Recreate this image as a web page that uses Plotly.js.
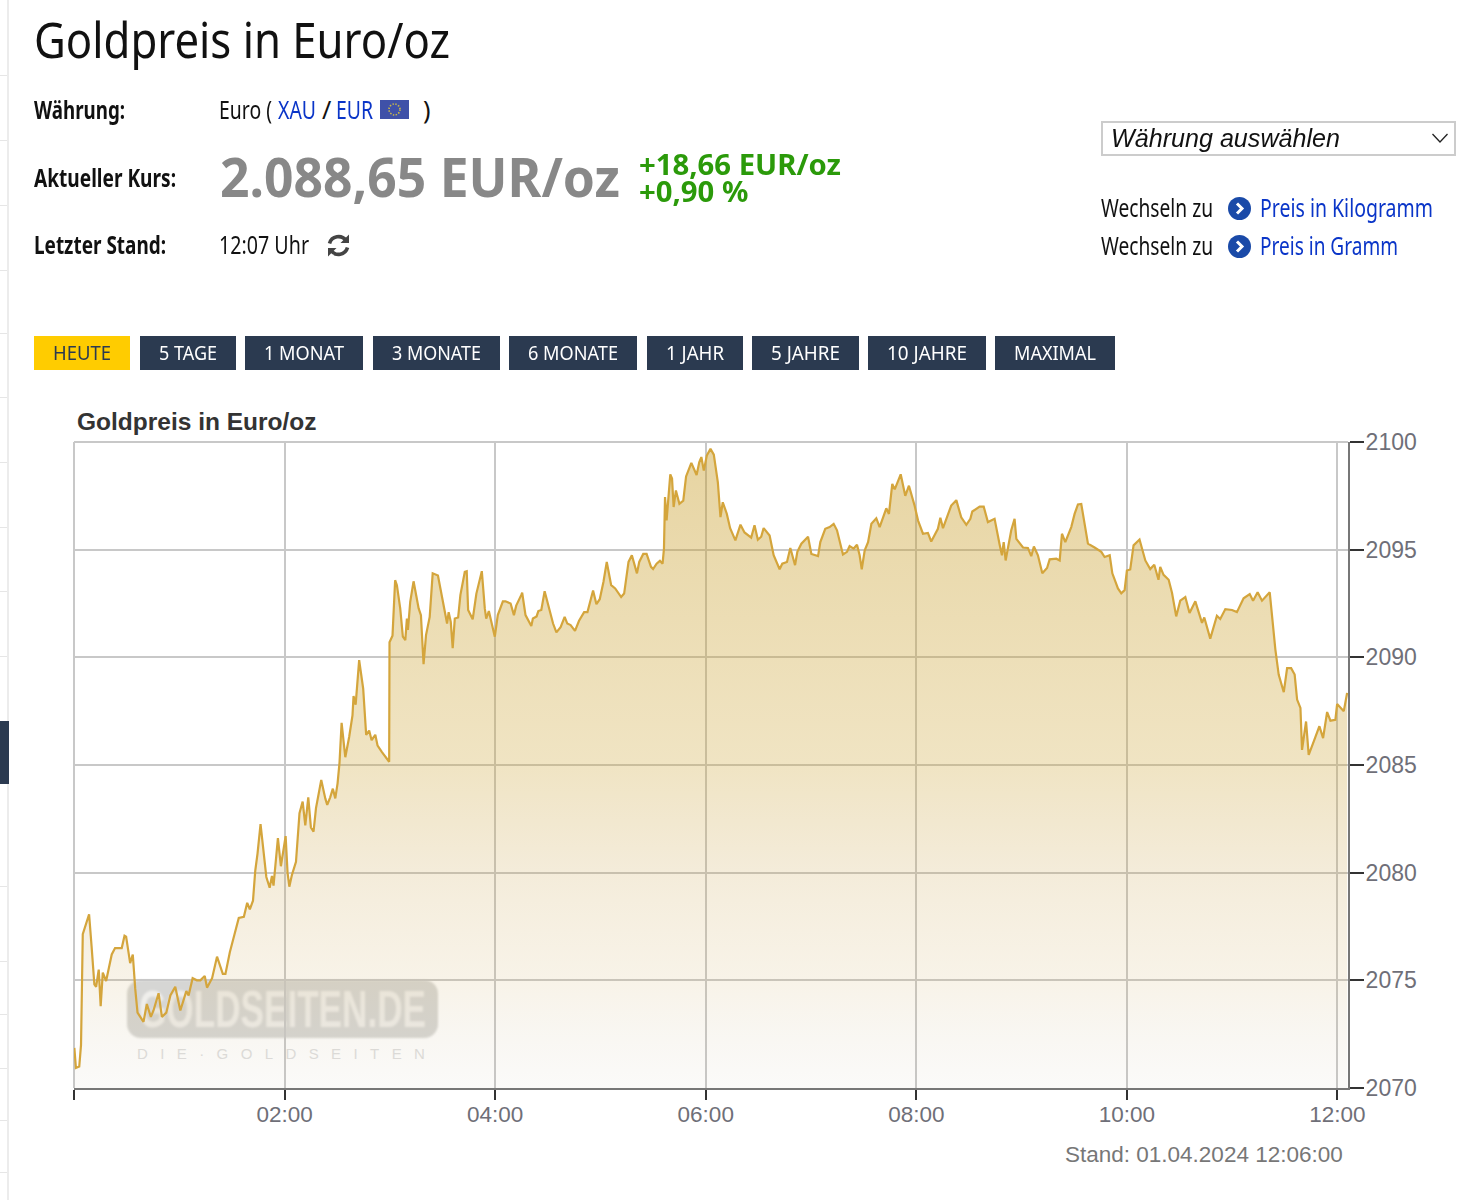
<!DOCTYPE html>
<html>
<head>
<meta charset="utf-8">
<title>Goldpreis in Euro/oz</title>
<script src="https://cdn.plot.ly/plotly-3.0.1.min.js"></script>
<style>
html, body { margin: 0; padding: 0; background: #fff; }
body { width: 1481px; height: 1200px; position: relative; overflow: hidden; font-family: "Noto Sans", sans-serif; color: #111; }
.t { position: absolute; white-space: nowrap; line-height: 1; transform-origin: left center; }
.lbl { font-weight: 700; font-size: 25px; }
.txt { font-size: 25px; }
.blue { color: #0a35c8; }
.green { color: #2b9a0a; font-weight: 700; font-size: 29px; line-height: 27px; }
.btn { position: absolute; top: 336px; height: 34px; background: #2b3a50; color: #fff; font-size: 20px; }
.btn.on { background: #ffcc00; color: #2b3a50; }
.btn span { position: absolute; top: 6px; white-space: nowrap; line-height: 22px; transform-origin: left center; }
#side { position: absolute; left: 7px; top: 0; width: 2px; height: 1200px; background: #ececec; }
#sidebar { position: absolute; left: 0; top: 721px; width: 9px; height: 63px; background: #2b3a50; }
.sidetick { position: absolute; left: 0; width: 7px; height: 1px; background: #e6e6e6; }
#box { position: absolute; left: 1101px; top: 121px; width: 351px; height: 31px; border: 2px solid #ccc; }
#mark { position: absolute; left: 127px; top: 980px; width: 311px; height: 58px; border-radius: 14px; background: #d6d6d4; filter: blur(1px); }
#mark b { position: absolute; left: 12px; top: 2px; font: 700 52px "Liberation Sans Narrow", "Liberation Sans", sans-serif; color: #efeeeb; white-space: nowrap; line-height: 54px; transform-origin: left center; }
#sub { position: absolute; left: 137px; top: 1045px; font: 15px "Liberation Sans", sans-serif; color: #dedede; letter-spacing: 12.4px; white-space: nowrap; }
#chart { position: absolute; left: 0; top: 0; width: 1481px; height: 1200px; }
svg.ic { position: absolute; }
</style>
</head>
<body>
<div id="side"></div>
<div id="sidebar"></div>
<div id="mark"><b data-w="287">GOLDSEITEN.DE</b></div>
<div id="sub">DIE·GOLDSEITEN</div>
<div id="chart"></div>

<div class="t" data-w="416" style="left:34px;top:14px;font-size:50px;">Goldpreis in Euro/oz</div>

<div class="t lbl" data-w="91" style="left:34px;top:97px;">Währung:</div>
<div class="t txt" data-w="53" style="left:219px;top:97px;">Euro (</div>
<div class="t txt blue" data-w="38" style="left:278px;top:97px;">XAU</div>
<div class="t txt" style="left:322px;top:97px;">/</div>
<div class="t txt blue" data-w="37" style="left:336px;top:97px;">EUR</div>
<svg class="ic" style="left:380px;top:100px" width="29" height="19" viewBox="0 0 29 19">
  <rect width="29" height="19" fill="#3f51a8"/>
  <circle cx="14.5" cy="9.5" r="5.5" fill="none" stroke="#c9b84a" stroke-width="1.6" stroke-dasharray="1.4 1.5"/>
</svg>
<div class="t txt" style="left:423px;top:97px;">)</div>

<div class="t lbl" data-w="142" style="left:34px;top:165px;">Aktueller Kurs:</div>
<div class="t" data-w="400" style="left:220px;top:149px;font-size:54px;font-weight:700;color:#888;">2.088,65 EUR/oz</div>
<div class="t green" data-w="202" style="left:639px;top:150px;">+18,66 EUR/oz<br>+0,90 %</div>

<div class="t lbl" data-w="132" style="left:34px;top:232px;">Letzter Stand:</div>
<div class="t txt" data-w="90" style="left:219px;top:232px;">12:07 Uhr</div>
<svg class="ic" style="left:326px;top:233px" width="25" height="25" viewBox="0 0 25 25" fill="none" stroke="#444" stroke-width="3.6">
  <path d="M3.5 10.5 A9.3 9.3 0 0 1 20 7.5"/>
  <path d="M21.5 14.5 A9.3 9.3 0 0 1 5 17.5"/>
  <path d="M23 1.5 V10 H14.5 Z" fill="#444" stroke="none"/>
  <path d="M2 23.5 V15 H10.5 Z" fill="#444" stroke="none"/>
</svg>

<div id="box"></div>
<div class="t" data-w="229" style="left:1111px;top:124px;font:italic 25px 'Liberation Sans',sans-serif;">Währung auswählen</div>
<svg class="ic" style="left:1431px;top:132px" width="18" height="12" viewBox="0 0 18 12" fill="none" stroke="#222" stroke-width="1.3"><path d="M1.5 2 L9 10 L16.5 2"/></svg>

<div class="t txt" data-w="112" style="left:1101px;top:195px;">Wechseln zu</div>
<svg class="ic" style="left:1228px;top:197px" width="23" height="23" viewBox="0 0 23 23"><circle cx="11.5" cy="11.5" r="11.5" fill="#1a4aa8"/><path d="M9 6.5 L14 11.5 L9 16.5" fill="none" stroke="#fff" stroke-width="3"/></svg>
<div class="t txt blue" data-w="173" style="left:1260px;top:195px;">Preis in Kilogramm</div>
<div class="t txt" data-w="112" style="left:1101px;top:233px;">Wechseln zu</div>
<svg class="ic" style="left:1228px;top:235px" width="23" height="23" viewBox="0 0 23 23"><circle cx="11.5" cy="11.5" r="11.5" fill="#1a4aa8"/><path d="M9 6.5 L14 11.5 L9 16.5" fill="none" stroke="#fff" stroke-width="3"/></svg>
<div class="t txt blue" data-w="138" style="left:1260px;top:233px;">Preis in Gramm</div>

<script>
var buttonLabels = ['HEUTE', '5 TAGE', '1 MONAT', '3 MONATE', '6 MONATE', '1 JAHR', '5 JAHRE', '10 JAHRE', 'MAXIMAL'];
var buttonLeft = [34, 140, 245, 373, 509, 647, 752, 868, 995];
var buttonRight = [130, 236, 363, 500, 637, 743, 859, 986, 1115];
var sideTicks = [75, 140, 205, 270, 333, 397, 462, 527, 591, 656, 886, 961, 1014, 1068, 1120, 1172];

// minutes after 00:00
var minutes = [
  0.2, 1.1, 3, 4, 5, 8.6, 10, 11.6, 12.6, 14.1, 15.2, 16.4, 18.3, 20.6, 21.5, 23.4, 27.2, 28.8, 29.7, 32,
  33.5, 34.9, 36.2, 39.6, 41.5, 43.8, 45.3, 48.2, 50.1, 52.6, 54.9, 57.7, 60.6, 64, 65.3, 67.6, 70, 72, 74.5, 75.8,
  78.7, 81.5, 84.8, 86.3, 88.8, 92, 93.9, 96.8, 98.7, 100.2, 102, 103.3, 104.6, 106.3, 108, 109.6, 111.5, 112.8, 113.7, 116.2,
  117.9, 120.6, 121.7, 122.7, 124.2, 126.5, 128.5, 130.3, 131.8, 133.5, 135, 136.5, 137.9, 140.9, 143.2, 144.3, 146, 147.5, 148.9, 150.2,
  151.3, 152.5, 154.6, 156.8, 158.7, 159.3, 160.5, 162.5, 164.8, 166, 166.5, 168.2, 169.6, 171.7, 173, 175.5, 179.6, 179.8, 181.5, 183,
  184, 185.9, 187.4, 188.8, 189.7, 190.3, 191.6, 193.5, 196.4, 197.7, 199.2, 200.6, 202.7, 204.4, 207.4, 208.8, 211.2, 212.6, 213.5, 214.7,
  215.8, 217, 218.9, 220.2, 222.7, 223.8, 224.6, 227.2, 229.3, 232.4, 234.1, 234.9, 236.4, 237.9, 239.8, 241.5, 244.4, 245.9, 248.8, 250.7,
  252, 254.9, 255.4, 257.3, 259.2, 260.6, 261.5, 263.6, 264.6, 266.3, 268.2, 270.7, 273, 274.9, 277.3, 279.6, 281.1, 283, 285.5, 287.8,
  290.7, 292.6, 295.8, 297.7, 299.6, 301.7, 303.6, 306.1, 308.4, 311.8, 313.5, 316, 317.9, 320.8, 322.1, 324.4, 326.3, 328.8, 330, 332,
  333.9, 335.4, 336.2, 336.8, 337.7, 339.8, 340.8, 341.7, 343, 345, 347.2, 348.8, 351.8, 354.8, 356.3, 357.5, 358.9, 360.6, 362.7, 364.6,
  366.9, 368.4, 369.7, 372, 373.9, 376.9, 379.8, 382.1, 385.9, 387.8, 389.7, 391.6, 393, 396.4, 398.7, 402.1, 403.6, 406.3, 408.2, 410.9,
  412.2, 414.5, 418.3, 420.2, 424, 425.3, 428.1, 430.6, 432.9, 434.8, 438.2, 440.5, 442, 444.3, 446.2, 447.7, 448.9, 450.6, 452.5, 454.4,
  457.2, 459.1, 462.9, 464.4, 466.3, 467.7, 471.1, 473.7, 475.8, 479, 481, 483.8, 486.6, 488.5, 492.3, 493.7, 495.2, 499.9, 502.8, 505.6,
  508.5, 510.8, 511.9, 516.1, 518.4, 520.8, 524.6, 527.5, 528.8, 529.8, 530.9, 534.1, 536, 537, 540.8, 543.6, 545.5, 547, 549.3, 551.8,
  554.5, 556, 559.8, 561.7, 563, 564.9, 568.3, 570.2, 572.1, 574, 575.9, 577.8, 581.6, 585.4, 587.3, 590.2, 591.7, 594.9, 596.8, 598.7,
  600, 601.9, 603.8, 607.2, 610.5, 613.3, 615.6, 618, 619, 620.9, 623.8, 625.7, 628.1, 630.4, 633.3, 635.7, 639, 642.8, 644.1, 647.5,
  651.3, 653.2, 656.1, 659.9, 662.7, 666.5, 670, 671.9, 674.5, 677, 681.4, 682.7, 684.6, 686.5, 689.4, 691.3, 693.6, 695.6, 697, 698.9,
  699.8, 702.1, 703.6, 706.5, 709.7, 711.8, 714.1, 716, 718.8, 719.8, 723.6, 725.5
];
var prices = [
  2071.86, 2070.93, 2071.0, 2072.0, 2077.14, 2078.07, 2076.6, 2074.81, 2074.7, 2075.5, 2073.8, 2075.36, 2074.97, 2075.9, 2076.2, 2076.5, 2076.5, 2077.07, 2077.03, 2075.8,
  2076.2, 2074.6, 2073.5, 2073.07, 2073.9, 2073.3, 2073.6, 2074.4, 2073.3, 2073.5, 2074.3, 2074.7, 2073.6, 2074.5, 2074.3, 2075.1, 2075.0, 2075.0, 2075.2, 2074.66,
  2075.1, 2076.1, 2075.3, 2075.3, 2076.3, 2077.3, 2077.9, 2077.95, 2078.6, 2078.3, 2078.7, 2080.1, 2080.9, 2082.26, 2081.06, 2079.8, 2079.3, 2079.85, 2079.4, 2081.6,
  2080.3, 2081.7, 2080.0, 2079.35, 2079.9, 2080.5, 2082.76, 2083.3, 2082.2, 2083.5, 2082.1, 2081.9, 2083.0, 2084.3, 2083.45, 2083.15, 2083.5, 2083.9, 2083.45, 2084.15,
  2085.1, 2086.96, 2085.36, 2086.3, 2087.3, 2088.2, 2087.8, 2089.87, 2088.55, 2086.9, 2086.4, 2086.6, 2086.15, 2086.4, 2085.9, 2085.6, 2085.15, 2090.7, 2091.0, 2093.58,
  2093.35, 2092.27, 2090.96, 2090.8, 2091.8, 2091.27, 2092.58, 2093.53, 2092.27, 2091.96, 2089.68, 2091.03, 2091.88, 2093.9, 2093.8, 2093.2, 2092.27, 2091.57, 2092.1, 2091.65,
  2090.42, 2091.8, 2091.85, 2092.9, 2093.97, 2094.0, 2092.2, 2091.77, 2092.96, 2094.0, 2092.27, 2091.8, 2092.15, 2091.65, 2090.96, 2091.96, 2092.6, 2092.6, 2092.5, 2091.96,
  2092.4, 2092.9, 2093.0, 2091.96, 2091.7, 2091.45, 2091.8, 2091.9, 2092.15, 2092.2, 2093.07, 2092.35, 2091.57, 2091.16, 2091.4, 2091.88, 2091.57, 2091.5, 2091.23, 2091.7,
  2092.1, 2092.1, 2093.1, 2092.47, 2092.7, 2093.5, 2094.43, 2093.35, 2093.2, 2092.8, 2092.96, 2094.43, 2094.74, 2093.9, 2094.43, 2094.8, 2094.8, 2094.2, 2094.1, 2094.35,
  2094.48, 2094.35, 2095.05, 2097.44, 2096.36, 2098.5, 2098.3, 2096.98, 2097.75, 2097.13, 2097.28, 2098.4, 2099.03, 2098.47, 2099.06, 2099.3, 2098.67, 2099.37, 2099.68, 2099.41,
  2098.13, 2096.51, 2097.2, 2096.67, 2096.0, 2095.43, 2096.16, 2095.8, 2095.56, 2096.13, 2095.46, 2095.6, 2096.0, 2095.66, 2094.74, 2094.09, 2094.35, 2094.43, 2095.08, 2094.28,
  2094.9, 2095.28, 2095.6, 2094.8, 2094.7, 2095.35, 2095.97, 2096.05, 2096.2, 2095.9, 2094.78, 2094.9, 2095.17, 2095.05, 2095.23, 2094.74, 2094.09, 2094.97, 2095.35, 2096.2,
  2096.46, 2096.05, 2096.92, 2096.66, 2098.05, 2097.8, 2098.5, 2097.5, 2097.97, 2097.05, 2096.35, 2095.74, 2095.78, 2095.38, 2095.97, 2096.48, 2096.0, 2097.05, 2097.3, 2096.5,
  2096.15, 2096.43, 2096.77, 2097.0, 2097.0, 2096.28, 2096.43, 2095.23, 2094.74, 2095.35, 2094.5, 2095.9, 2096.43, 2095.5, 2095.1, 2095.08, 2094.7, 2095.15, 2094.74, 2093.9,
  2094.15, 2094.55, 2094.58, 2094.5, 2095.74, 2095.35, 2096.05, 2096.66, 2097.1, 2097.12, 2096.28, 2095.28, 2095.1, 2094.9, 2094.66, 2094.74, 2093.9, 2093.2, 2092.97, 2093.12,
  2094.03, 2094.08, 2095.2, 2095.47, 2094.5, 2094.1, 2094.3, 2093.6, 2094.2, 2093.83, 2093.6, 2093.0, 2091.9, 2092.63, 2092.8, 2092.06, 2092.6, 2091.6, 2091.85, 2090.87,
  2091.93, 2091.78, 2092.24, 2092.2, 2092.1, 2092.74, 2092.94, 2092.63, 2093.02, 2092.63, 2093.02, 2091.93, 2090.37, 2089.2, 2088.38, 2089.5, 2089.5, 2089.2, 2088.04, 2087.65,
  2085.7, 2087.02, 2085.47, 2086.1, 2086.8, 2086.25, 2087.46, 2087.06, 2087.1, 2087.83, 2087.5, 2088.35
];

var hourTicks = [0, 120, 240, 360, 480, 600, 720];
var hourLabels = ['', '02:00', '04:00', '06:00', '08:00', '10:00', '12:00'];
var priceTicks = [2070, 2075, 2080, 2085, 2090, 2095, 2100];

sideTicks.forEach(function (y) {
    var d = document.createElement('div');
    d.className = 'sidetick';
    d.style.top = y + 'px';
    document.body.appendChild(d);
});

buttonLabels.forEach(function (label, i) {
    var b = document.createElement('div');
    b.className = 'btn' + (i === 0 ? ' on' : '');
    b.style.left = buttonLeft[i] + 'px';
    b.style.width = (buttonRight[i] - buttonLeft[i]) + 'px';
    var s = document.createElement('span');
    s.textContent = label;
    s.style.left = '19px';
    s.setAttribute('data-w', buttonRight[i] - buttonLeft[i] - 38);
    b.appendChild(s);
    document.body.appendChild(b);
});

// squeeze the header texts to the condensed widths of the page
document.querySelectorAll('[data-w]').forEach(function (el) {
    var w = el.getBoundingClientRect().width;
    el.style.transform = 'scaleX(' + (Number(el.getAttribute('data-w')) / w) + ')';
});

var gold = {
    x: minutes,
    y: prices,
    type: 'scatter',
    mode: 'lines',
    line: {color: '#d4a53c', width: 2.2},
    fill: 'tozeroy',
    fillgradient: {
        type: 'vertical',
        start: 2070,
        stop: 2100,
        colorscale: [
            [0, 'rgba(185,175,155,0.06)'],
            [0.167, 'rgba(208,175,102,0.15)'],
            [0.333, 'rgba(200,160,70,0.20)'],
            [0.5, 'rgba(205,165,55,0.30)'],
            [1, 'rgba(197,152,30,0.42)']
        ]
    },
    hoverinfo: 'skip'
};

// plotly leaves out the grid lines at the range ends, the chart has them
function frameLine(x0, y0, x1, y1) {
    return {type: 'line', xref: 'paper', yref: 'paper', x0: x0, y0: y0, x1: x1, y1: y1,
        line: {color: '#c8c8c8', width: 2}, layer: 'below'};
}

Plotly.newPlot('chart', [gold], {
    width: 1481,
    height: 1200,
    margin: {l: 74, r: 133, t: 442, b: 112, pad: 0},
    paper_bgcolor: 'rgba(0,0,0,0)',
    plot_bgcolor: 'rgba(0,0,0,0)',
    showlegend: false,
    font: {family: '"Liberation Sans", Arial, sans-serif', size: 22, color: '#6f6f78'},
    title: {
        text: 'Goldpreis in Euro/oz',
        font: {size: 24.5, color: '#333', weight: 'bold'},
        xref: 'container',
        yref: 'container',
        x: 77 / 1481,
        y: 1 - 421 / 1200,
        xanchor: 'left',
        yanchor: 'middle'
    },
    shapes: [frameLine(0, 1, 1, 1), frameLine(0, 0, 0, 1)],
    xaxis: {
        range: [0, 726],
        tickmode: 'array',
        tickvals: hourTicks,
        ticktext: hourLabels,
        ticks: 'outside',
        ticklen: 10,
        tickwidth: 2,
        tickcolor: '#333',
        ticklabelstandoff: -5,
        tickfont: {size: 22.5},
        showline: true,
        linecolor: '#777',
        linewidth: 2,
        showgrid: true,
        gridcolor: '#c8c8c8',
        gridwidth: 2,
        zeroline: false
    },
    yaxis: {
        range: [2070, 2100],
        side: 'right',
        tickmode: 'array',
        tickvals: priceTicks,
        ticktext: priceTicks.map(String),
        ticks: 'outside',
        ticklen: 14,
        tickwidth: 2,
        tickcolor: '#333',
        ticklabelstandoff: -3,
        tickfont: {size: 23},
        showline: true,
        linecolor: '#777',
        linewidth: 2,
        showgrid: true,
        gridcolor: '#c8c8c8',
        gridwidth: 2,
        zeroline: false
    },
    annotations: [{
        text: 'Stand: 01.04.2024 12:06:00',
        xref: 'paper',
        yref: 'paper',
        x: (1345 - 74) / 1274,
        y: -66 / 646,
        xanchor: 'right',
        yanchor: 'middle',
        showarrow: false,
        font: {size: 22.5, color: '#777'}
    }]
}, {displayModeBar: false});
</script>
</body>
</html>
